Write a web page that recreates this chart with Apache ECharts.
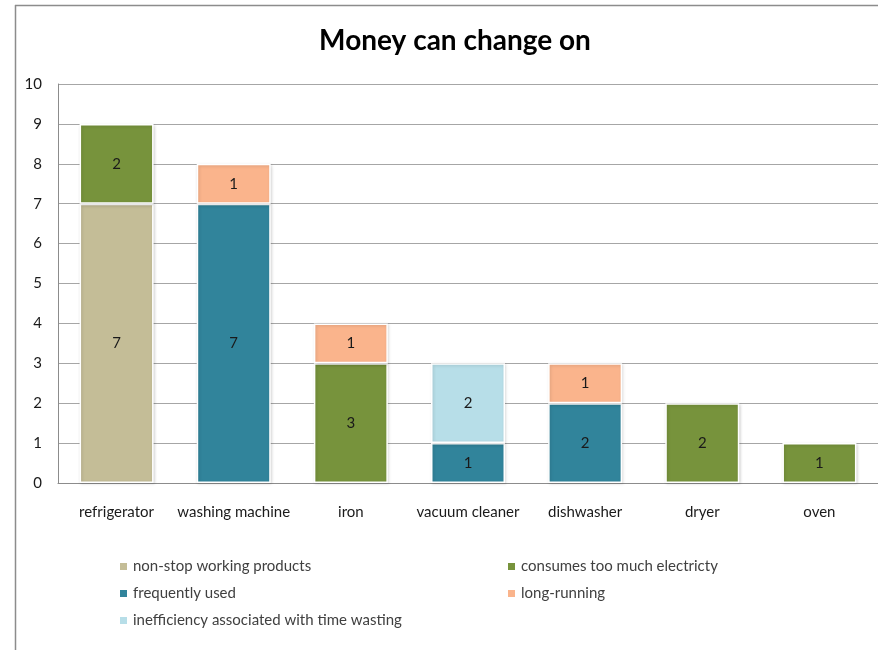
<!DOCTYPE html>
<html>
<head>
<meta charset="utf-8">
<script src="https://cdn.jsdelivr.net/npm/echarts@6/dist/echarts.min.js"></script>
<style>
  html, body { margin: 0; padding: 0; background: #fff; }
  #chart { width: 878px; height: 650px; }
</style>
</head>
<body>
<div id="chart"></div>
<script>
// Appliances on which money can be saved, and the reasons why
const categories = ['refrigerator', 'washing machine', 'iron', 'vacuum cleaner', 'dishwasher', 'dryer', 'oven'];

const nonStop      = [7, 0, 0, 0, 0, 0, 0];
const tooMuchPower = [2, 0, 3, 0, 0, 2, 1];
const frequent     = [0, 7, 0, 1, 2, 0, 0];
const longRunning  = [0, 1, 1, 0, 1, 0, 0];
const timeWasting  = [0, 0, 0, 2, 0, 0, 0];

const yTicks = [0, 1, 2, 3, 4, 5, 6, 7, 8, 9, 10];

const seriesDefs = [
  { name: 'non-stop working products', data: nonStop, color: '#C4BD97' },
  { name: 'consumes too much electricty', data: tooMuchPower, color: '#77933C' },
  { name: 'frequently used', data: frequent, color: '#31849B' },
  { name: 'long-running', data: longRunning, color: '#FAB48C' },
  { name: 'inefficiency associated with time wasting', data: timeWasting, color: '#B7DEE8' }
];

const FONT = 'Lato, "Open Sans", sans-serif';

const chart = echarts.init(document.getElementById('chart'), null, { renderer: 'canvas' });

const legendText = { fontFamily: FONT, fontSize: 15, color: '#404040' };

chart.setOption({
  animation: false,
  backgroundColor: '#ffffff',
  textStyle: { fontFamily: FONT },
  title: {
    text: 'Money can change on',
    left: 450,
    top: 22,
    textAlign: 'center',
    textStyle: { fontFamily: FONT, fontSize: 28, fontWeight: 'bold', color: '#000000' }
  },
  graphic: [
    { type: 'line', shape: { x1: 15.5, y1: 5, x2: 15.5, y2: 650 }, style: { stroke: '#8c8c8c', lineWidth: 1.5 } },
    { type: 'line', shape: { x1: 15, y1: 5.5, x2: 878, y2: 5.5 }, style: { stroke: '#8c8c8c', lineWidth: 1.5 } }
  ],
  legend: [
    {
      orient: 'vertical',
      left: 113,
      top: 554,
      itemWidth: 9,
      itemHeight: 9,
      itemGap: 12,
      icon: 'rect',
      textStyle: legendText,
      data: [seriesDefs[0].name, seriesDefs[2].name, seriesDefs[4].name]
    },
    {
      orient: 'vertical',
      left: 501,
      top: 554,
      itemWidth: 9,
      itemHeight: 9,
      itemGap: 12,
      icon: 'rect',
      textStyle: legendText,
      data: [seriesDefs[1].name, seriesDefs[3].name]
    }
  ],
  grid: { left: 58, right: 0, top: 84, bottom: 167, containLabel: false },
  xAxis: {
    type: 'category',
    data: categories,
    axisLine: { show: true, lineStyle: { color: '#8c8c8c', width: 1 } },
    axisTick: { show: false },
    axisLabel: { fontFamily: FONT, fontSize: 15, color: '#1a1a1a', margin: 22, interval: 0 }
  },
  yAxis: {
    type: 'value',
    min: yTicks[0],
    max: yTicks[yTicks.length - 1],
    interval: 1,
    axisLine: { show: true, lineStyle: { color: '#8c8c8c', width: 1 } },
    axisTick: { show: true, length: 0 },
    axisLabel: { fontFamily: FONT, fontSize: 15, color: '#1a1a1a', margin: 16 },
    splitLine: { show: true, lineStyle: { color: '#a6a6a6', width: 1 } }
  },
  series: seriesDefs.map(s => ({
    name: s.name,
    type: 'bar',
    stack: 'total',
    barWidth: 74,
    data: s.data.map(v => (v === 0 ? null : v)),
    itemStyle: {
      color: s.color,
      borderColor: '#ffffff',
      borderWidth: 1.5,
      shadowColor: 'rgba(0,0,0,0.15)',
      shadowBlur: 3,
      shadowOffsetX: 1,
      shadowOffsetY: 1
    },
    label: {
      show: true,
      position: 'inside',
      fontFamily: FONT,
      fontSize: 15,
      color: '#1a1a1a'
    }
  }))
});
</script>
</body>
</html>
